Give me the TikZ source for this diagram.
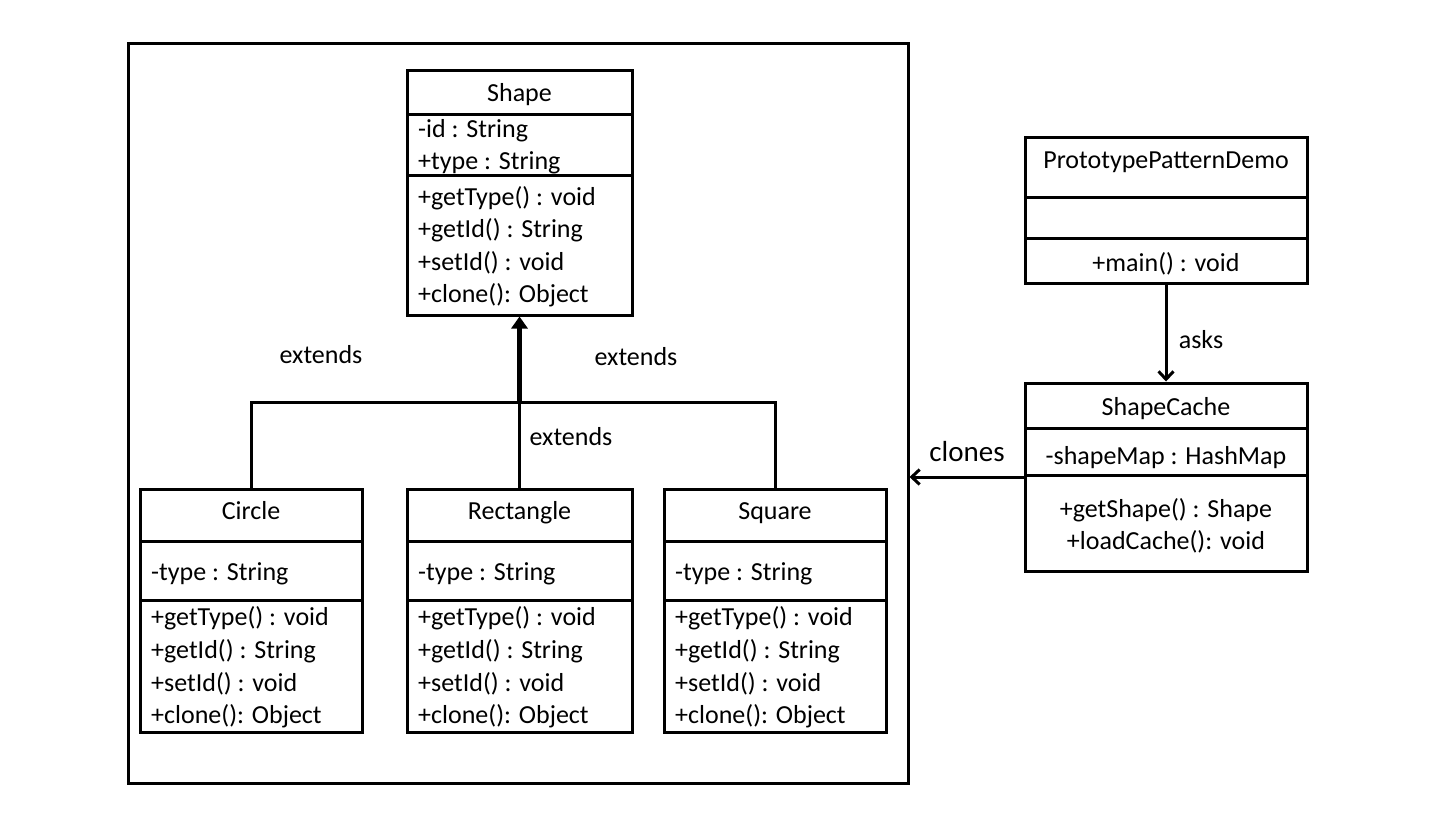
\documentclass[tikz,border=0pt]{standalone}
\usepackage{fontspec}
\setmainfont{Carlito}
\usetikzlibrary{arrows.meta}
\begin{document}
\begin{tikzpicture}[x=1pt,y=-1pt,
  cls/.style={draw, line width=3pt, inner sep=0pt},
  sep/.style={line width=3pt},
  body/.style={font=\fontsize{26}{30}\selectfont, inner sep=0pt, text height=19pt, text depth=3pt},
  txt/.style={body, anchor=west},
  ctxt/.style={body},
  lbl/.style={body},
  link/.style={line width=3pt},
  arr/.style={line width=3pt, -{Straight Barb[length=8pt,width=15pt,line width=3pt]}}]
\useasboundingbox (0,0) rectangle (1454,838);

% package frame
\node[cls, minimum width=780, minimum height=740] (frame) at (518,413) {};

% Shape
\node[cls, minimum width=225, minimum height=245] (shape) at (519.5,192.5) {};
\draw[sep] (407,114) -- (632,114);
\draw[sep] (407,175) -- (632,175);
\node[ctxt] (shapeT) at (519.5,93) {Shape};
\node[txt] (shapeA1) at (418,129) {-id : String};
\node[txt] (shapeA2) at (418,161) {+type : String};
\node[txt] (shapeM1) at (418,197) {+getType() : void};
\node[txt] (shapeM2) at (418,229) {+getId() : String};
\node[txt] (shapeM3) at (418,262) {+setId() : void};
\node[txt] (shapeM4) at (418,294) {+clone(): Object};

% Circle
\node[cls, minimum width=222, minimum height=243] (circle) at (251,610.5) {};
\draw[sep] (140,541) -- (362,541);
\draw[sep] (140,600) -- (362,600);
\node[ctxt] (circleT) at (251,511) {Circle};
\node[txt] (circleA1) at (151,572) {-type : String};
\node[txt] (circleM1) at (151,617) {+getType() : void};
\node[txt] (circleM2) at (151,650) {+getId() : String};
\node[txt] (circleM3) at (151,683) {+setId() : void};
\node[txt] (circleM4) at (151,715) {+clone(): Object};

% Rectangle
\node[cls, minimum width=225, minimum height=243] (rect) at (519.5,610.5) {};
\draw[sep] (407,541) -- (632,541);
\draw[sep] (407,600) -- (632,600);
\node[ctxt] (rectT) at (519.5,511) {Rectangle};
\node[txt] (rectA1) at (418,572) {-type : String};
\node[txt] (rectM1) at (418,617) {+getType() : void};
\node[txt] (rectM2) at (418,650) {+getId() : String};
\node[txt] (rectM3) at (418,683) {+setId() : void};
\node[txt] (rectM4) at (418,715) {+clone(): Object};

% Square
\node[cls, minimum width=222, minimum height=243] (square) at (775,610.5) {};
\draw[sep] (664,541) -- (886,541);
\draw[sep] (664,600) -- (886,600);
\node[ctxt] (squareT) at (775,511) {Square};
\node[txt] (squareA1) at (675,572) {-type : String};
\node[txt] (squareM1) at (675,617) {+getType() : void};
\node[txt] (squareM2) at (675,650) {+getId() : String};
\node[txt] (squareM3) at (675,683) {+setId() : void};
\node[txt] (squareM4) at (675,715) {+clone(): Object};

% inheritance tree
\coordinate (join) at (519.5,402);
\draw[link] (circle.north) |- (join);
\draw[link] (square.north) |- (join);
\draw[link] (rect.north) -- (join);
\draw[line width=5pt, -{Triangle[length=12pt,width=16pt]}] (join) -- (shape.south);
\node[lbl] (ext1) at (321,355) {extends};
\node[lbl] (ext2) at (636,357) {extends};
\node[lbl] (ext3) at (571,437) {extends};

% PrototypePatternDemo
\node[cls, minimum width=282, minimum height=146] (demo) at (1166,210) {};
\draw[sep] (1025,197) -- (1307,197);
\draw[sep] (1025,238) -- (1307,238);
\node[ctxt] (demoT) at (1166,160) {PrototypePatternDemo};
\node[ctxt] (demoM1) at (1166,263) {+main() : void};

% ShapeCache
\node[cls, minimum width=282, minimum height=188] (cache) at (1166,477) {};
\draw[sep] (1025,428) -- (1307,428);
\draw[sep] (1025,475) -- (1307,475);
\node[ctxt] (cacheT) at (1166,407) {ShapeCache};
\node[ctxt] (cacheA1) at (1166,456) {-shapeMap : HashMap};
\node[ctxt] (cacheM1) at (1166,509) {+getShape() : Shape};
\node[ctxt] (cacheM2) at (1166,541) {+loadCache(): void};

% associations
\draw[arr] (demo.south) -- (cache.north);
\node[lbl] (asks) at (1201,340) {asks};
\draw[arr] (cache.west) -- (cache.west -| frame.east);
\node[body, font=\fontsize{29}{33}\selectfont] (clones) at (967,453) {clones};
\end{tikzpicture}
\end{document}
